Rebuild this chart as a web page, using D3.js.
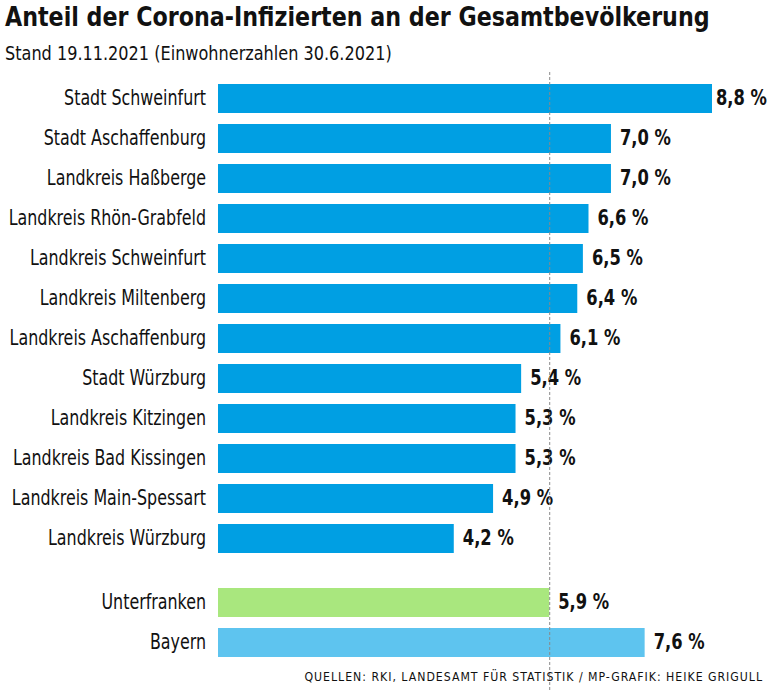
<!DOCTYPE html>
<html><head><meta charset="utf-8">
<script src="https://cdn.jsdelivr.net/npm/d3@7"></script>
<style>
body{margin:0;background:#fff;}
svg{display:block;}
</style></head><body>
<div id="chart"></div>
<script>
const title = "Anteil der Corona-Infizierten an der Gesamtbevölkerung";
const subtitle = "Stand 19.11.2021 (Einwohnerzahlen 30.6.2021)";
const source = "QUELLEN: RKI, LANDESAMT FÜR STATISTIK / MP-GRAFIK: HEIKE GRIGULL";
const regions = ["Stadt Schweinfurt","Stadt Aschaffenburg","Landkreis Haßberge","Landkreis Rhön-Grabfeld","Landkreis Schweinfurt","Landkreis Miltenberg","Landkreis Aschaffenburg","Stadt Würzburg","Landkreis Kitzingen","Landkreis Bad Kissingen","Landkreis Main-Spessart","Landkreis Würzburg"];
const regionValues = [8.8,7.0,7.0,6.6,6.5,6.4,6.1,5.4,5.3,5.3,4.9,4.2];
const summaries = ["Unterfranken","Bayern"];
const summaryValues = [5.9,7.6];
const referenceValue = 5.9;

const W = 768, H = 691;
const svg = d3.select("#chart").append("svg").attr("width", W).attr("height", H);
const font = "'DejaVu Sans Condensed','DejaVu Sans',sans-serif";

const x = d3.scaleLinear().domain([0, 8.8]).range([218, 712]);
const yR = d3.scaleBand().domain(regions).range([84 - 5.5, 84 - 5.5 + 480]).paddingInner(0.275).paddingOuter(0.1375);
const yS = d3.scaleBand().domain(summaries).range([588 - 5.5, 588 - 5.5 + 80]).paddingInner(0.275).paddingOuter(0.1375);

const colR = "#009fe3", colU = "#a9e77e", colB = "#5ec4ef";

function condText(sel, str, opts){
  const t = sel.append("text")
    .attr("font-family", font).attr("font-size", opts.size)
    .attr("font-weight", opts.bold ? "bold" : "normal")
    .attr("text-anchor", opts.anchor || "start")
    .attr("fill", "#111").text(str);
  if (opts.ls) t.attr("letter-spacing", opts.ls);
  return t;
}
function fitK(str, size, bold, target, ls){
  const t = svg.append("text").attr("font-family", font).attr("font-size", size)
    .attr("font-weight", bold ? "bold" : "normal").text(str);
  if (ls) t.attr("letter-spacing", ls);
  const w = t.node().getComputedTextLength();
  t.remove();
  return target / w;
}

const kTitle = fitK(title, 27, true, 705);
condText(svg, title, {size:27, bold:true}).attr("transform", `translate(5,26) scale(${kTitle},1)`);
const kSub = fitK(subtitle, 20, false, 387);
condText(svg, subtitle, {size:20}).attr("transform", `translate(5,59.5) scale(${kSub},1)`);

const kLab = fitK("Stadt Schweinfurt", 21, false, 142);
const valW = 51;
const kVal = fitK("8,8 %", 21, true, valW);

const fmt = v => d3.format(".1f")(v).replace(".", ",") + " %";
const valOffset = v => Math.min(9, W - 1 - valW - x(v));

function drawGroup(names, vals, y, colorFn){
  const data = names.map((n,i)=>({n, v: vals[i]}));
  const g = svg.append("g");
  g.selectAll("rect").data(data).join("rect")
    .attr("x", x(0)).attr("y", d=>y(d.n)).attr("width", d=>x(d.v)-x(0)).attr("height", y.bandwidth())
    .attr("fill", (d,i)=>colorFn(i));
  g.selectAll("text.lab").data(data).join("text").attr("class","lab")
    .attr("transform", d=>`translate(206,${y(d.n)+y.bandwidth()/2+6}) scale(${kLab},1)`)
    .attr("text-anchor","end").attr("font-family", font).attr("font-size", 21).attr("fill","#111")
    .text(d=>d.n);
  g.selectAll("text.val").data(data).join("text").attr("class","val")
    .attr("transform", d=>`translate(${x(d.v)+valOffset(d.v)},${y(d.n)+y.bandwidth()/2+6}) scale(${kVal},1)`)
    .attr("font-family", font).attr("font-weight","bold").attr("font-size", 21).attr("fill","#111")
    .text(d=>fmt(d.v));
}
drawGroup(regions, regionValues, yR, ()=>colR);
drawGroup(summaries, summaryValues, yS, i=> i===0 ? colU : colB);

svg.append("line").attr("x1", x(referenceValue)+0.5).attr("x2", x(referenceValue)+0.5)
  .attr("y1", 72).attr("y2", H).attr("stroke", "#888").attr("stroke-width", 1).attr("stroke-dasharray","3,2");

const kSrc = fitK(source, 12.5, false, 459, 1);
condText(svg, source, {size:12.5, anchor:"end", ls:1}).attr("transform", `translate(763,681) scale(${kSrc},1)`);
</script></body></html>
